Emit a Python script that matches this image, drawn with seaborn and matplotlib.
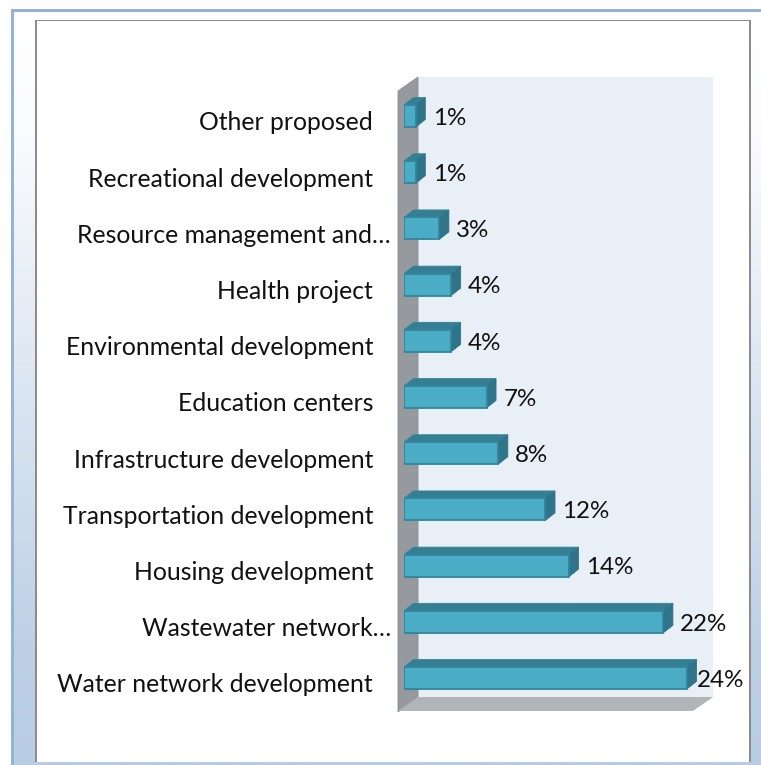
import numpy as np
import pandas as pd
import matplotlib
matplotlib.use("Agg")
import matplotlib.pyplot as plt
from matplotlib.colors import LinearSegmentedColormap
from matplotlib.patches import Polygon, Rectangle
from matplotlib.transforms import ScaledTranslation
import seaborn as sns

categories = [
    "Other proposed", "Recreational development", "Resource management and…",
    "Health project", "Environmental development", "Education centers",
    "Infrastructure development", "Transportation development",
    "Housing development", "Wastewater network…", "Water network development",
]
shares = [1, 1, 3, 4, 4, 7, 8, 12, 14, 22, 24]
value_labels = ["1%", "1%", "3%", "4%", "4%", "7%", "8%", "12%", "14%", "22%", "24%"]

W, H = 761, 765
FRONT = "#4bacc6"
EDGE = "#31859c"
TOP = "#367f93"
SIDE = "#2f7488"

sns.set_theme(style="white")
plt.rcParams["font.family"] = ["Lato", "DejaVu Sans"]

fig = plt.figure(figsize=(W / 100, H / 100), dpi=100, facecolor="white")

# Page furniture, in pixel coordinates
bg = fig.add_axes([0, 0, 1, 1], zorder=0)
bg.axis("off")
fade = LinearSegmentedColormap.from_list(
    "fade", [(0, "#ffffff"), (0.15, "#fbfcfe"), (0.85, "#bdd0e6"), (1, "#b8cce4")]
)
bg.imshow(np.linspace(0, 1, 256)[:, None], cmap=fade, aspect="auto",
          extent=(12, W, H, 10), zorder=1)
bg.set_xlim(0, W)
bg.set_ylim(H, 0)
bg.add_patch(Rectangle((11, 8.5), W - 11, 3, color="#95b3d7", lw=0, zorder=2))
bg.add_patch(Rectangle((11, 8.5), 3, H - 8.5, color="#95b3d7", lw=0, zorder=2))
bg.add_patch(Rectangle((36, 20), 714, 742, fc="white", lw=0, zorder=2))
bg.add_patch(Rectangle((35.3, 20), 1.2, 742, color="#8c8c8c", lw=0, zorder=3))
bg.add_patch(Rectangle((35.3, 20), 715, 1.2, color="#8c8c8c", lw=0, zorder=3))
bg.add_patch(Rectangle((749, 20), 2, 742, color="#8c8c8c", lw=0, zorder=3))

# Chart box: back wall, left wall and floor
bg.add_patch(Polygon([(418, 77), (713, 77), (713, 697), (418, 697)], fc="#e8eff6", lw=0, zorder=3))
bg.add_patch(Polygon([(398, 91), (418, 77), (418, 697), (398, 712)], fc="#969a9e", ec="#8a8e92", lw=0.6, zorder=3))
bg.add_patch(Polygon([(418, 697), (713, 697), (693, 711), (398, 711)], fc="#b1b5b8", lw=0, zorder=3))

# Bar axes: one share point spans 11.79 px and one row spans 56.2 px
X0, PX_PER_UNIT, Y0, ROW = 404, 11.79, 116, 56.2
X_MAX = (713 - X0) / PX_PER_UNIT
top_px = Y0 - ROW / 2
ax = fig.add_axes([X0 / W, 1 - (top_px + ROW * len(categories)) / H,
                   (713 - X0) / W, ROW * len(categories) / H], zorder=1)
ax.patch.set_alpha(0)

df = pd.DataFrame({"category": categories, "share": shares})
BAR_W = 0.39
sns.barplot(data=df, x="share", y="category", orient="h", color=FRONT, saturation=1,
            width=BAR_W, edgecolor=EDGE, linewidth=1.3, ax=ax, zorder=3)
ax.set_xlim(0, X_MAX)
ax.set_ylim(len(categories) - 0.5, -0.5)
ax.set_xlabel("")
ax.set_ylabel("")
ax.set_xticks([])
sns.despine(ax=ax, left=True, bottom=True)

# Extruded top and side faces of each bar
dx = 9.5 / PX_PER_UNIT
dy = 7.5 / ROW
for i, v in enumerate(shares):
    t, b = i - BAR_W / 2, i + BAR_W / 2
    ax.add_patch(Polygon([(0, t), (v, t), (v + dx, t - dy), (dx, t - dy)],
                         fc=TOP, ec=EDGE, lw=0.6, zorder=2))
    ax.add_patch(Polygon([(v, t), (v + dx, t - dy), (v + dx, b - dy), (v, b)],
                         fc=SIDE, ec=SIDE, lw=0.6, zorder=2))

# Value labels sit beyond the bar end; the longest bar leaves less room
for i, (v, lab) in enumerate(zip(shares, value_labels)):
    offset = 7.2 if v == max(shares) else 12.2
    ax.annotate(lab, (v, i), xytext=(offset, -1.6), textcoords="offset points",
                ha="left", va="center", fontsize=17.4, color="#111111", annotation_clip=False)

# Category labels: shortened ones reach closer to the wall
ax.tick_params(axis="y", length=0)
nudge = ScaledTranslation(0, -5 / 72, fig.dpi_scale_trans)
for tick, name in zip(ax.yaxis.get_major_ticks(), categories):
    tick.set_pad(9.4 if name.endswith("…") else 22.3)
    tick.label1.set_fontsize(17.8)
    tick.label1.set_color("#111111")
    tick.label1.set_va("center")
    tick.label1.set_transform(tick.label1.get_transform() + nudge)

fig.savefig("out.png", dpi=100)
